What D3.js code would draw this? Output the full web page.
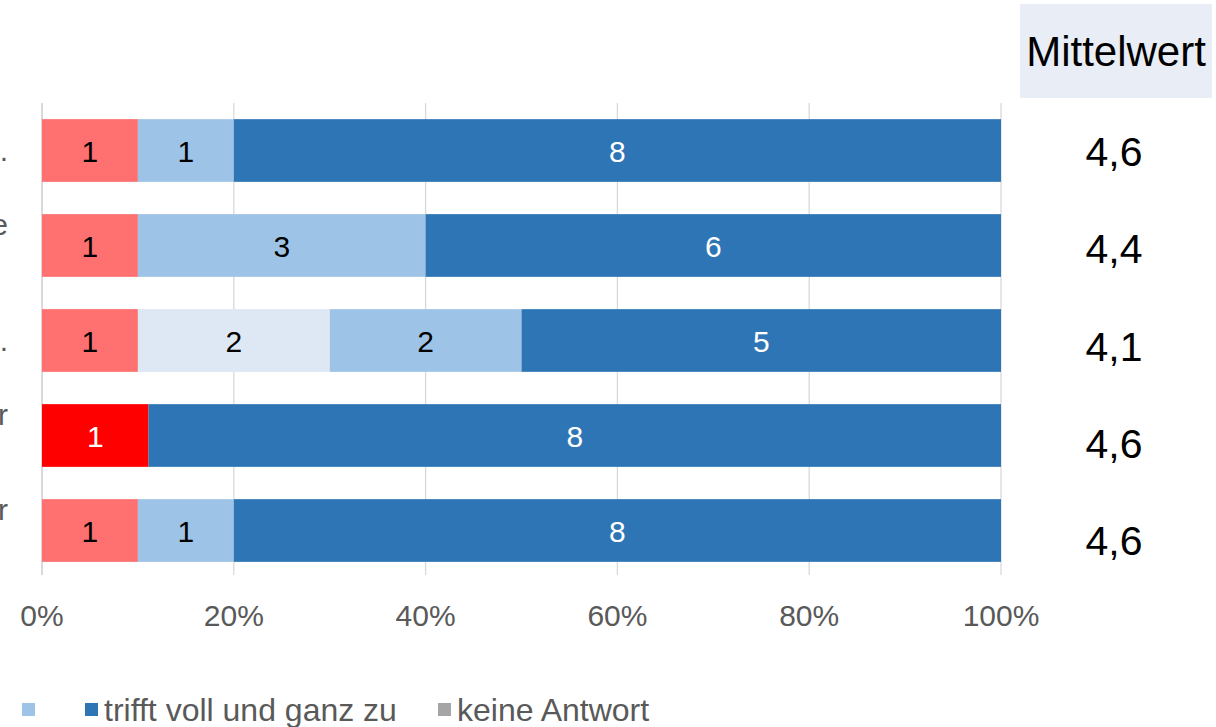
<!DOCTYPE html>
<html>
<head>
<meta charset="utf-8">
<script src="https://cdn.jsdelivr.net/npm/d3@7"></script>
<style>
  body { margin: 0; background: #fff; }
  svg { font-family: "Liberation Sans", Arial, sans-serif; }
</style>
</head>
<body>
<svg id="chart" width="1216" height="727"></svg>
<script>
// category labels are cut off at the left edge, only their last characters show
var categories = [["."], ["e", ""], ["."], ["r", ""], ["r", ""]];
var seriesNames = ["trifft gar nicht zu", "trifft eher nicht zu", "teils/teils", "trifft eher zu", "trifft voll und ganz zu", "keine Antwort"];
var seriesColors = ["#FF0000", "#FF7171", "#DEE8F4", "#9DC3E6", "#2E75B6", "#A5A5A5"];
var labelColors = ["#fff", "#000", "#000", "#000", "#fff", "#000"];
// counts per category, in series order
var counts = [
  [0, 1, 0, 1, 8, 0],
  [0, 1, 0, 3, 6, 0],
  [0, 1, 2, 2, 5, 0],
  [1, 0, 0, 0, 8, 0],
  [0, 1, 0, 1, 8, 0]
];
var means = ["4,6", "4,4", "4,1", "4,6", "4,6"];
var tickValues = [0, 0.2, 0.4, 0.6, 0.8, 1];

var svg = d3.select("#chart");

var margins = { top: 103, bottom: 149, left: 42, right: 215 };
var width = 1216 - margins.left - margins.right;
var height = 727 - margins.top - margins.bottom;

var xScale = d3.scaleLinear().domain([0, 1]).range([0, width]);
var yScale = d3.scaleBand().domain(d3.range(categories.length)).range([0, height])
              .paddingInner(0.34).paddingOuter(0.17);

var plot = svg.append("g").attr("transform", "translate(" + margins.left + "," + margins.top + ")");

// gridlines
plot.selectAll(".grid").data(tickValues).enter().append("line")
    .attr("x1", function(d){ return xScale(d); })
    .attr("x2", function(d){ return xScale(d); })
    .attr("y1", 0).attr("y2", height - 3)
    .attr("stroke", "#D9D9D9").attr("stroke-width", function(d){ return d === 0 ? 2 : 1.3; });

// stacked segments
var segs = [];
counts.forEach(function(row, i){
  var total = d3.sum(row);
  var acc = 0;
  row.forEach(function(v, s){
    if (v > 0) segs.push({ row: i, s: s, v: v, x0: acc / total, x1: (acc + v) / total });
    acc += v;
  });
});

var seg = plot.selectAll(".seg").data(segs).enter().append("g");
seg.append("rect")
    .attr("x", function(d){ return xScale(d.x0); })
    .attr("width", function(d){ return xScale(d.x1) - xScale(d.x0); })
    .attr("y", function(d){ return yScale(d.row); })
    .attr("height", yScale.bandwidth())
    .attr("fill", function(d){ return seriesColors[d.s]; });
seg.append("text")
    .attr("x", function(d){ return (xScale(d.x0) + xScale(d.x1)) / 2; })
    .attr("y", function(d){ return yScale(d.row) + yScale.bandwidth() / 2 + 11; })
    .attr("text-anchor", "middle")
    .attr("font-size", 30)
    .attr("fill", function(d){ return labelColors[d.s]; })
    .text(function(d){ return d.v; });

// x axis labels
plot.selectAll(".tick").data(tickValues).enter().append("text")
    .attr("x", function(d){ return xScale(d); })
    .attr("y", height + 48)
    .attr("text-anchor", "middle")
    .attr("font-size", 30)
    .attr("fill", "#595959")
    .text(d3.format(".0%"));

// category labels (mostly outside the view)
var cat = plot.selectAll(".cat").data(categories).enter().append("text")
    .attr("text-anchor", "end")
    .attr("font-size", 30)
    .attr("fill", "#595959");
cat.each(function(lines, i){
  var t = d3.select(this);
  var cy = yScale(i) + yScale.bandwidth() / 2;
  lines.forEach(function(l, k){
    t.append("tspan").attr("x", -34)
     .attr("y", cy + 10 + (k - (lines.length - 1) / 2) * 42)
     .text(l);
  });
});

// Mittelwert column
svg.append("rect").attr("x", 1020).attr("y", 4).attr("width", 192).attr("height", 94).attr("fill", "#E9EDF6");
svg.append("text").attr("x", 1116).attr("y", 66).attr("text-anchor", "middle")
    .attr("font-size", 42).attr("fill", "#000").text("Mittelwert");

var meanScale = d3.scalePoint().domain(d3.range(means.length)).range([151, 540]);
svg.selectAll(".mean").data(means).enter().append("text")
    .attr("x", 1114)
    .attr("y", function(d, i){ return meanScale(i) + 15; })
    .attr("text-anchor", "middle")
    .attr("font-size", 41)
    .attr("fill", "#000")
    .text(function(d){ return d; });

// legend (cut off at left)
var legendItems = [
  { x: 22, s: 3, label: "" },
  { x: 85, s: 4, label: seriesNames[4] },
  { x: 438, s: 5, label: seriesNames[5] }
];
var leg = svg.selectAll(".leg").data(legendItems).enter().append("g")
    .attr("transform", function(d){ return "translate(" + d.x + ",703)"; });
leg.append("rect").attr("width", 13).attr("height", 13)
    .attr("fill", function(d){ return seriesColors[d.s]; });
leg.append("text").attr("x", 19).attr("y", 18)
    .attr("font-size", 32).attr("fill", "#595959")
    .text(function(d){ return d.label; });
</script>
</body>
</html>
